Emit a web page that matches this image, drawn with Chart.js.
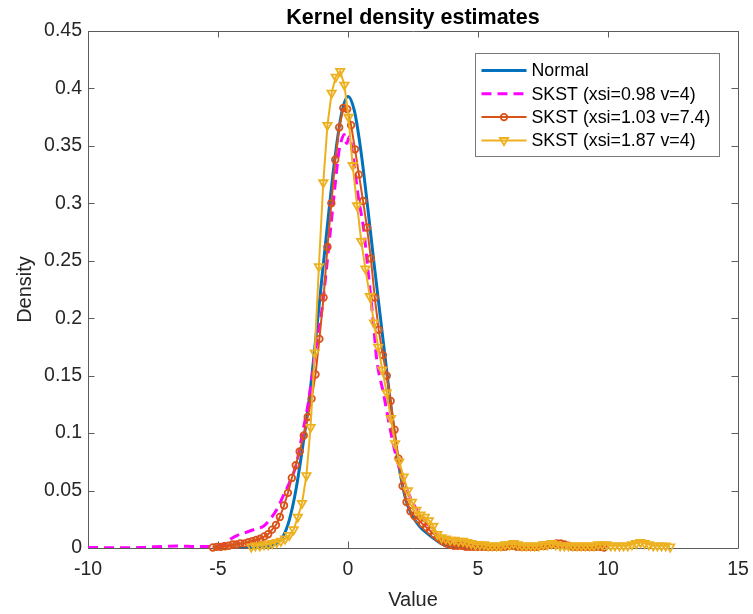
<!DOCTYPE html>
<html>
<head>
<meta charset="utf-8">
<title>Kernel density estimates</title>
<script src="https://cdn.jsdelivr.net/npm/chart.js@4/dist/chart.umd.min.js"></script>
<style>
  html, body { margin: 0; padding: 0; background: #fff; }
  #wrap { width: 753px; height: 614px; }
</style>
</head>
<body>
<div id="wrap"><canvas id="kde" width="753" height="614"></canvas></div>
<script>
// tick positions + labels
const xTicks = [-10, -5, 0, 5, 10, 15];
const xTickLabels = ["-10", "-5", "0", "5", "10", "15"];
const yTicks = [0, 0.05, 0.1, 0.15, 0.2, 0.25, 0.3, 0.35, 0.4, 0.45];
const yTickLabels = ["0", "0.05", "0.1", "0.15", "0.2", "0.25", "0.3", "0.35", "0.4", "0.45"];

const chartTitle = "Kernel density estimates";
const seriesNames = [
  "Normal",
  "SKST (xsi=0.98 v=4)",
  "SKST (xsi=1.03 v=7.4)",
  "SKST (xsi=1.87 v=4)"
];

// Normal
const normalX = [-4.5,-4.25,-4,-3.75,-3.5,-3.25,-3,-2.75,-2.5,-2.25,-2,-1.75,-1.5,-1.25,-1,-0.75,-0.5,-0.25,0,
  0.25,0.5,0.75,1,1.25,1.5,1.75,2,2.25,2.5,2.75,3,3.25,3.5,3.75,4,4.25,4.5];
const normalY = [0,0,0.0002,0.0003,0.0005,0.0008,0.0015,0.004,0.01,0.025,0.051,0.087,0.128,0.18,0.236,0.29,0.34,0.378,0.393,
  0.38,0.345,0.298,0.248,0.2,0.152,0.105,0.066,0.04,0.027,0.019,0.0135,0.009,0.005,0.002,0.0008,0.0003,0];

// SKST xsi=0.98 v=4
const skst1X = [-10,-9.5,-9,-8.5,-8,-7.5,-7,-6.5,-6,-5.5,-5,-4.75,-4.5,-4.25,-4,-3.75,-3.5,-3.25,-3,-2.75,-2.5,-2.25,-2,
  -1.75,-1.5,-1.25,-1,-0.75,-0.5,-0.35,-0.25,-0.15,-0.05,0.05,0.2,0.4,0.6,0.8,1,1.1,1.36,1.68,1.87,2.13,2.5,2.75,
  3,3.25,3.5,3.75,4,4.5,5,6,7,8,9,10];
const skst1Y = [0.0005,0.0003,0.0002,0.0002,0.0004,0.001,0.0015,0.0017,0.0014,0.0012,0.002,0.004,0.008,0.011,0.013,0.015,
  0.017,0.019,0.025,0.033,0.045,0.057,0.072,0.1,0.13,0.172,0.208,0.26,0.315,0.345,0.355,0.36,0.352,0.358,0.34,0.305,
  0.278,0.235,0.19,0.165,0.135,0.097,0.078,0.059,0.039,0.03,0.022,0.016,0.01,0.006,0.004,0.002,0.001,0.001,0.001,
  0.0015,0.001,0.0005];

// SKST xsi=1.03 v=7.4
const skst2X = [-5.2,-5.05,-4.9,-4.74,-4.59,-4.44,-4.29,-4.14,-3.98,-3.83,-3.68,-3.53,-3.38,-3.22,-3.07,-2.92,-2.77,
  -2.62,-2.46,-2.31,-2.16,-2.01,-1.86,-1.7,-1.55,-1.4,-1.25,-1.1,-0.94,-0.79,-0.64,-0.49,-0.34,-0.18,-0.03,0.12,0.27,
  0.42,0.58,0.73,0.88,1.03,1.18,1.34,1.49,1.64,1.79,1.94,2.1,2.25,2.4,2.55,2.7,2.86,3.01,3.16,3.31,3.46,3.62,3.77,
  3.92,4.07,4.22,4.38,4.53,4.68,4.83,4.98,5.14,5.29,5.44,5.59,5.74,5.9,6.05,6.2,6.35,6.5,6.66,6.81,6.96,7.11,7.26,
  7.42,7.57,7.72,7.87,8.02,8.18,8.33,8.48,8.63,8.78,8.94,9.09,9.24,9.39,9.54,9.7,9.85];
const skst2Y = [0.0005,0.001,0.001,0.0015,0.002,0.003,0.003,0.004,0.004,0.005,0.006,0.007,0.008,0.01,0.012,0.016,0.02,
  0.027,0.037,0.048,0.061,0.072,0.084,0.098,0.114,0.13,0.151,0.182,0.218,0.262,0.3,0.338,0.366,0.383,0.382,0.368,0.347,
  0.325,0.302,0.279,0.252,0.218,0.19,0.168,0.15,0.128,0.103,0.078,0.054,0.04,0.032,0.028,0.025,0.021,0.018,0.015,
  0.012,0.009,0.006,0.004,0.003,0.002,0.002,0.002,0.001,0.001,0.001,0.001,0.001,0.001,0.001,0.001,0.001,0.001,0.001,
  0.002,0.002,0.001,0.001,0.001,0.001,0.001,0.001,0.002,0.002,0.003,0.003,0.004,0.004,0.003,0.002,0.001,0.001,0.001,
  0.001,0.001,0.001,0.001,0.001,0.0005];

// SKST xsi=1.87 v=4
const skst3X = [-3.72,-3.56,-3.39,-3.23,-3.07,-2.91,-2.74,-2.58,-2.42,-2.26,-2.09,-1.93,-1.77,-1.6,-1.44,-1.28,-1.12,
  -0.95,-0.79,-0.63,-0.47,-0.3,-0.14,0.02,0.18,0.35,0.51,0.67,0.84,1,1.16,1.32,1.49,1.65,1.81,1.97,2.14,2.3,2.46,2.63,
  2.79,2.95,3.11,3.28,3.44,3.6,3.76,3.93,4.09,4.25,4.42,4.58,4.74,4.9,5.07,5.23,5.39,5.55,5.72,5.88,6.04,6.21,6.37,
  6.53,6.69,6.86,7.02,7.18,7.34,7.51,7.67,7.83,7.99,8.16,8.32,8.48,8.65,8.81,8.97,9.13,9.3,9.46,9.62,9.78,9.95,10.11,
  10.27,10.44,10.6,10.76,10.92,11.09,11.25,11.41,11.57,11.74,11.9,12.06,12.22,12.39];
const skst3Y = [0.001,0.002,0.002,0.003,0.003,0.004,0.005,0.006,0.008,0.011,0.016,0.027,0.039,0.063,0.105,0.17,0.245,
  0.318,0.368,0.396,0.41,0.415,0.403,0.375,0.333,0.298,0.267,0.243,0.219,0.196,0.175,0.155,0.135,0.113,0.091,0.075,
  0.062,0.05,0.04,0.033,0.029,0.027,0.024,0.019,0.012,0.009,0.008,0.007,0.007,0.006,0.006,0.005,0.004,0.003,0.003,
  0.003,0.002,0.002,0.002,0.002,0.003,0.003,0.004,0.003,0.002,0.002,0.002,0.002,0.002,0.003,0.003,0.004,0.003,0.002,
  0.002,0.002,0.002,0.002,0.002,0.002,0.002,0.002,0.003,0.003,0.003,0.002,0.002,0.002,0.002,0.002,0.003,0.004,0.005,
  0.004,0.003,0.002,0.002,0.002,0.002,0.001];

const FONT = "'Liberation Sans', Arial, Helvetica, sans-serif";
const axisColor = "#5c5c5c";
const textColor = "#262626";
const colors = ["#0072BD", "#FF00FF", "#D95319", "#EDB120"];

function pairs(xs, ys) {
  return xs.map((x, i) => ({ x: x, y: ys[i] }));
}

// box round the axes with inward ticks, like matlab
const boxPlugin = {
  id: "box",
  beforeDatasetsDraw(chart) {
    const { ctx, chartArea: a, scales } = chart;
    const tl = 6.5;
    ctx.save();
    ctx.strokeStyle = axisColor;
    ctx.lineWidth = 1;
    ctx.beginPath();
    ctx.rect(Math.round(a.left) + 0.5, Math.round(a.top) + 0.5,
      Math.round(a.right - a.left), Math.round(a.bottom - a.top));
    xTicks.forEach(v => {
      const p = Math.round(scales.x.getPixelForValue(v)) + 0.5;
      ctx.moveTo(p, a.bottom); ctx.lineTo(p, a.bottom - tl);
      ctx.moveTo(p, a.top); ctx.lineTo(p, a.top + tl);
    });
    yTicks.forEach(v => {
      const p = Math.round(scales.y.getPixelForValue(v)) + 0.5;
      ctx.moveTo(a.left, p); ctx.lineTo(a.left + tl, p);
      ctx.moveTo(a.right, p); ctx.lineTo(a.right - tl, p);
    });
    ctx.stroke();

    // title sits over the axes, not over the whole canvas
    ctx.fillStyle = "#000";
    ctx.font = "bold 21.5px " + FONT;
    ctx.textAlign = "center";
    ctx.textBaseline = "middle";
    ctx.fillText(chartTitle, (a.left + a.right) / 2, 18);
    ctx.restore();
  }
};

// legend box in the top right corner
const legendPlugin = {
  id: "kdeLegend",
  afterDatasetsDraw(chart) {
    const ctx = chart.ctx;
    const box = { left: 475.5, top: 53.5, width: 244, height: 103 };
    const rowH = 23.3;
    ctx.save();
    ctx.fillStyle = "#fff";
    ctx.fillRect(box.left, box.top, box.width, box.height);
    ctx.strokeStyle = "#7a7a7a";
    ctx.lineWidth = 1;
    ctx.strokeRect(box.left, box.top, box.width, box.height);
    chart.data.datasets.forEach((ds, i) => {
      const y = box.top + 17 + i * rowH;
      const x0 = box.left + 6, x1 = box.left + 51;
      ctx.strokeStyle = ds.borderColor;
      ctx.lineWidth = ds.borderWidth;
      ctx.setLineDash(ds.borderDash || []);
      ctx.beginPath();
      ctx.moveTo(x0, y);
      ctx.lineTo(x1, y);
      ctx.stroke();
      ctx.setLineDash([]);
      if (ds.pointRadius > 0) {
        ctx.fillStyle = "rgba(0,0,0,0)";
        ctx.lineWidth = ds.pointBorderWidth;
        Chart.helpers.drawPoint(ctx, {
          pointStyle: ds.pointStyle,
          radius: ds.pointRadius,
          rotation: ds.pointRotation || 0,
          borderWidth: ds.pointBorderWidth
        }, (x0 + x1) / 2, y);
      }
      ctx.fillStyle = "#000";
      ctx.font = "17.8px " + FONT;
      ctx.textBaseline = "middle";
      ctx.textAlign = "left";
      ctx.fillText(seriesNames[i], box.left + 56, y + 1);
    });
    ctx.restore();
  }
};

new Chart(document.getElementById("kde"), {
  type: "line",
  data: {
    datasets: [
      {
        label: seriesNames[0],
        data: pairs(normalX, normalY),
        borderColor: colors[0],
        borderWidth: 3,
        pointRadius: 0,
        cubicInterpolationMode: "monotone",
        order: 3
      },
      {
        label: seriesNames[1],
        data: pairs(skst1X, skst1Y),
        borderColor: colors[1],
        borderWidth: 3,
        borderDash: [10, 6],
        pointRadius: 0,
        cubicInterpolationMode: "monotone",
        order: 2
      },
      {
        label: seriesNames[2],
        data: pairs(skst2X, skst2Y),
        borderColor: colors[2],
        backgroundColor: "rgba(0,0,0,0)",
        borderWidth: 2,
        pointStyle: "circle",
        pointRadius: 3.3,
        pointBorderWidth: 1.8,
        pointBorderColor: colors[2],
        pointBackgroundColor: "rgba(0,0,0,0)",
        tension: 0,
        clip: 8,
        order: 1
      },
      {
        label: seriesNames[3],
        data: pairs(skst3X, skst3Y),
        borderColor: colors[3],
        backgroundColor: "rgba(0,0,0,0)",
        borderWidth: 2,
        pointStyle: "triangle",
        pointRotation: 180,
        pointRadius: 4.8,
        pointBorderWidth: 1.8,
        pointBorderColor: colors[3],
        pointBackgroundColor: "rgba(0,0,0,0)",
        tension: 0,
        clip: 8,
        order: 0
      }
    ]
  },
  options: {
    responsive: false,
    animation: false,
    devicePixelRatio: 1,
    layout: { padding: { left: 0, right: 15, top: 31, bottom: 0 } },
    plugins: {
      legend: { display: false },
      tooltip: { enabled: false },
      title: { display: false }
    },
    scales: {
      x: {
        type: "linear",
        min: -10,
        max: 15,
        grid: { display: false, drawTicks: false },
        border: { display: false },
        afterBuildTicks: s => { s.ticks = xTicks.map(v => ({ value: v })); },
        afterFit: s => { s.height = 66; s.paddingLeft = 0; s.paddingRight = 0; },
        ticks: {
          autoSkip: false,
          maxRotation: 0,
          padding: 10,
          color: textColor,
          font: { family: FONT, size: 19.5 },
          callback: (v, i) => xTickLabels[i]
        },
        title: {
          display: true,
          text: "Value",
          color: textColor,
          font: { family: FONT, size: 20 },
          padding: { top: 0, bottom: 2 }
        }
      },
      y: {
        type: "linear",
        min: 0,
        max: 0.45,
        grid: { display: false, drawTicks: false },
        border: { display: false },
        afterBuildTicks: s => { s.ticks = yTicks.map(v => ({ value: v })); },
        afterFit: s => { s.width = 88; s.paddingTop = 0; s.paddingBottom = 0; },
        ticks: {
          autoSkip: false,
          padding: 6,
          color: textColor,
          font: { family: FONT, size: 19.5 },
          callback: (v, i) => yTickLabels[i]
        },
        title: {
          display: true,
          text: "Density",
          color: textColor,
          font: { family: FONT, size: 20 },
          padding: { top: 13, bottom: 0 }
        }
      }
    }
  },
  plugins: [boxPlugin, legendPlugin]
});
</script>
</body>
</html>
